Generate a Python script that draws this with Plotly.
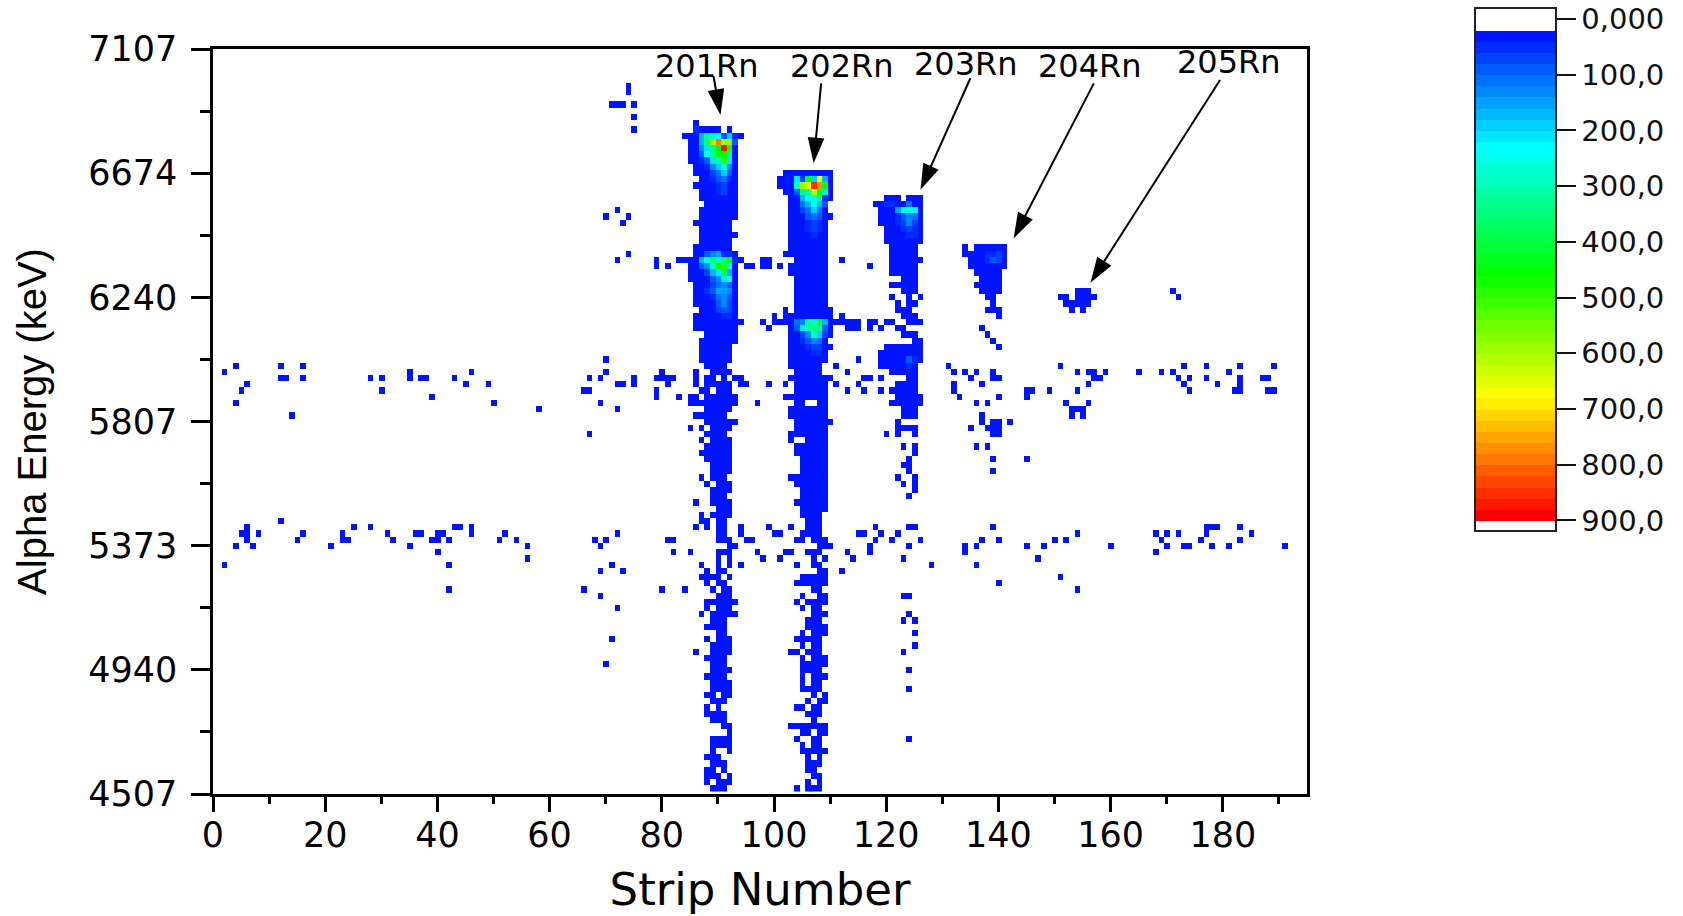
import numpy as np
import plotly.graph_objects as go

# ---------- axes ----------
strip_major = [0, 20, 40, 60, 80, 100, 120, 140, 160, 180]
strip_minor = [10, 30, 50, 70, 90, 110, 130, 150, 170, 190]
energy_major = [4507, 4940, 5373, 5807, 6240, 6674, 7107]
energy_minor = [4723.5, 5156.5, 5590, 6023.5, 6457, 6890.5]
bar_ticks = [0, 100, 200, 300, 400, 500, 600, 700, 800, 900]
bar_labels = ["0,000", "100,0", "200,0", "300,0", "400,0", "500,0", "600,0", "700,0", "800,0", "900,0"]

# ---------- occupied cells: energy-bin index -> strips holding a low count ----------
rows_bottom = {
    0: "89-91 104 106-108", 1: "88 90-92 106 108", 2: "88-90 92 107 108", 3: "88 89 91 106 107",
    4: "89-91 106-108", 5: "88-90 106 108", 6: "89 92 105-109", 7: "89-92 105 107 108",
    8: "89-92 104 107 108 124", 9: "92 105 106 108 109", 10: "91 92 103-109", 11: "89-91 107",
    12: "88-91 106-108", 13: "88 90 104 105 107 108", 14: "89-91 106 108 109", 15: "88 89 91 92 107 109",
    16: "89-92 105-108 124", 17: "89-92 105 107 108", 18: "88-91 105 107-109", 19: "89-92 105-108 124",
    20: "70 89-91 105-109", 21: "88-91 105 107-109", 22: "86 89-92 103 104 106-108 123",
    23: "89-92 105 107 108 125", 24: "71 88 90-92 104-108", 25: "90 91 105 107-109 125",
    26: "88-91 106-109", 27: "89-91 106-108 123 125", 28: "87 89-93 107-109 124",
    29: "72 88 90-92 105 107 108", 30: "88-93 104 106-109", 31: "69 90-92 105 108 109 123 124",
}
rows_lower_band = {
    32: "42 66 80 84 89 91 92 107 108 154", 33: "88 90 91 104-109 140", 34: "87-90 92 105-109 151",
    35: "69 73 88 90 91 108 109 112", 36: "2 42 71 87 90 92 94 104 107 108 128 136",
    37: "56 90 92 98 101 107 109 114 123 147",
    38: "40 82 85 90-92 97 102 103 106-108 113 117 134 168",
    39: "4 7 21 35 56 69 92 93 108-110 117 124 134 136 145 148 160 170 173 174 178 181 191",
    40: "6 15 23 24 32 39 40 42 51 54 68 70 81 82 90-92 95 96 104 105 107-109 118 121 126 137 140 150 152 169 176 183",
    41: "5 6 8 16 23 31 36 37 40 41 46 52 72 90 91 94 100 101 105-108 115 116 119 122 154 168 170 172 177 185",
    42: "6 25 28 43 44 46 86 88 90 91 94 99 103 106-108 118 124 125 139 177-179 183",
    43: "12 87 88 90 91 106-108", 44: "87 89-92 105-108", 45: "90-92 105-109",
}
rows_middle = {
    46: "86 89-92 104-109", 47: "89-91 105-109 124", 48: "89-92 105-109 125", 49: "88 90-92 104-109 123 125",
    50: "87 89-91 103-109 122 125", 51: "89-92 105-109 124 139", 52: "89-92 105-109 123 124",
    53: "88-92 105-109 124 139 145", 54: "87-92 104-109 125", 55: "88-92 104-109 123 125 136 138",
    56: "87 89-92 103 106-109", 57: "67 88-91 103-109 120 122 125 139 140",
    58: "85 87 89-92 104-109 122-125 135 138-140", 59: "88-93 104-110 122 137 139 140 142",
    60: "14 86-91 103-109 123-125 137 153 155", 61: "58 72 88-92 103-109 123-125 153-155",
}
rows_upper_band = {
    62: "4 50 69 85-93 97 104 105 108 109 121-126 136 138 152 156",
    63: "39 79 83 85 86 88-93 102-109 122-126 133 140 145",
    64: "5 30 66 67 79 87 88 90-92 104-109 113 116 119 121-125 132 145 146 149 154 174 182 183 188 189",
    65: "6 45 49 72 73 75 81 86 88-92 94 95 99 102 104-109 111 115 122-125 132 137 156 173 179 183",
    66: "12 13 16 28 30 35 37 38 43 67 69 75 79-82 86 88 89 91 93 94 103-110 116 117 119 124 125 135 139 140 157 158 172 174 177 183 187 188",
    67: "2 35 46 70 80 86 89-92 104-108 113 121-125 132 134 136 139 154 156 157 159 165 169 171 181",
    68: "4 12 16 88-91 103-108 111 119-125 131 151 173 177 183 189",
    69: "70 87-92 103-109 115 119-126", 70: "87-92 103-109 119-126", 71: "87-92 103-110 120-126 140",
    72: "87-93 103-109 125 126 139", 73: "88-93 103-110 123-125 138",
    74: "86-93 99 103-110 113-115 117 119 122 123 137",
    75: "86-94 98 100-115 117 118 120 121 124-126",
}
rows_peaks = {
    76: "86-93 100 102-110 112 123-125 140", 77: "87-93 102 104-110 122-124 138-140 153 155",
    78: "86-93 104-109 122 124 125 139 152-156", 79: "86-93 104-109 121 124 126 138 139 151 152 154-157 172",
    80: "86-93 104-109 123-125 137-140 154-156 171", 81: "86-93 104-109 121-125 136-140",
    82: "85-93 104-109 123-125 137-140", 83: "85-93 103-109 121-125 136-140",
    84: "79 81 85-93 95 96 98 99 101 103-109 117 121-125 135-141",
    85: "72 79 83-94 98 99 104-109 112 121-126 135-141", 86: "74 86-93 102-109 121-125 134-141",
    87: "86-92 103-109 121-125 134 136-141", 88: "87-92 103-109 120-126", 89: "87-93 103-109 120-126",
    90: "87-92 103-109 120-126", 91: "73 86-92 103-109 119-126", 92: "70 74 87-93 103-110 119-126",
    93: "72 87-93 103-109 119-126", 94: "88-93 103-109 118-126", 95: "87-93 103-110 120-122 124-126",
    96: "87-93 102-110", 97: "86-93 101-110", 98: "87-93 101-110", 99: "86-93 102-110", 100: "86-93",
    101: "85-93", 102: "85-93", 103: "85-93", 104: "85-93", 105: "84-94", 106: "75 86-90 92", 107: "86",
    108: "75", 110: "71-73 75", 112: "74", 113: "74",
}
base_count = 25

# ---------- raised counts: energy bin -> first strip, counts along the strips ----------
counts_201Rn = {
    106: (86, [45]),
    105: (87, [170, 320, 280, 230, 90, 190, 50]),
    104: (87, [170, 350, 590, 800, 590, 580, 90]),
    103: (87, [130, 220, 330, 450, 880, 470]),
    102: (87, [100, 230, 340, 440, 450, 340]),
    101: (87, [50, 90, 220, 310, 500, 220]),
    100: (88, [45, 130, 190, 280, 130]),
    99: (88, [40, 70, 120, 190, 90]),
    98: (88, [30, 60, 90, 120, 60]),
    97: (88, [30, 40, 60, 80, 40]),
    96: (89, [30, 50, 70, 30]),
    95: (89, [30, 40, 40]),
    94: (90, [30, 30]),
    93: (90, [30]),
    87: (88, [30, 40, 40]),
    86: (88, [90, 130, 150, 60, 50]),
    85: (87, [170, 230, 360, 300, 360, 440, 50]),
    84: (87, [90, 140, 270, 450, 490, 260]),
    83: (87, [30, 80, 170, 220, 390, 150]),
    82: (88, [40, 90, 130, 210, 260]),
    81: (87, [30, 40, 80, 120, 130, 90]),
    80: (88, [50, 90, 150, 160, 130]),
    79: (89, [50, 120, 140, 90]),
    78: (89, [40, 90, 130, 80]),
    77: (89, [30, 70, 100, 70]),
    76: (90, [40, 60, 60]),
    75: (90, [40, 30]),
    74: (91, [30]),
    72: (90, [30, 30]),
}
counts_202Rn = {
    98: (103, [30, 220, 80, 440, 200, 680, 170]),
    97: (103, [40, 270, 590, 650, 850, 780, 440]),
    96: (104, [90, 350, 320, 610, 430, 300]),
    95: (105, [170, 240, 280, 340, 50]),
    94: (104, [40, 120, 170, 230, 170, 100]),
    93: (104, [30, 80, 120, 190, 120, 40]),
    92: (105, [40, 90, 120, 90]),
    91: (106, [50, 70, 60]),
    90: (105, [30, 60, 80, 50]),
    89: (106, [40, 50, 40]),
    88: (106, [30, 40, 30]),
    85: (107, [40]),
    75: (104, [120, 130, 330, 270, 430, 170]),
    74: (103, [30, 100, 220, 320, 330, 320, 100]),
    73: (104, [30, 70, 130, 290, 190, 70]),
    72: (105, [60, 90, 140, 120, 30]),
    71: (106, [50, 70, 70]),
    70: (106, [30, 60, 50]),
    69: (107, [40, 40]),
    68: (107, [30]),
    67: (107, [30]),
}
counts_203Rn = {
    94: (120, [50, 50, 40, 30, 110, 40]),
    93: (121, [40, 150, 260, 280, 250]),
    92: (122, [60, 90, 140, 110]),
    91: (122, [50, 70, 130, 70]),
    90: (122, [30, 50, 70, 60]),
    89: (123, [40, 50, 50]),
    70: (123, [30, 40]),
    69: (122, [30, 40, 100, 60]),
    68: (123, [40, 50]),
}
counts_204Rn = {
    86: (138, [50, 50, 70]),
    85: (138, [60, 90, 80]),
}

# ---------- isotope labels and their arrows (strip, energy) ----------
isotopes = ["201Rn", "202Rn", "203Rn", "204Rn", "205Rn"]
label_strip = [88.0, 112.2, 134.2, 156.4, 181.1]
label_energy = [7048, 7048, 7055, 7048, 7060]
tail_strip = [89.2, 108.4, 135.0, 157.0, 179.5]
tail_energy = [7013, 6987, 7005, 6987, 6999]
tip_strip = [90.46, 107.06, 126.1, 142.7, 156.4]
tip_energy = [6877, 6708, 6616, 6446, 6291]

# ---------- assemble ----------
n_strips, n_bins = 195, 120
z = np.full((n_bins, n_strips), np.nan)
for group in (rows_bottom, rows_lower_band, rows_middle, rows_upper_band, rows_peaks):
    for row, spec in group.items():
        for part in spec.split():
            a, _, b = part.partition("-")
            z[row, int(a): int(b or a) + 1] = base_count
for group in (counts_201Rn, counts_202Rn, counts_203Rn, counts_204Rn):
    for row, (first, vals) in group.items():
        for k, v in enumerate(vals):
            z[row, first + k] = v

# The reference's colour bar runs from 0 at the top to 900 at the bottom, and a
# Plotly colour bar always grows upward, so the heatmap is fed the negated counts.
LOW, HIGH = -20.6, 918.0
STEPS = [(20, (0, 20, 255)), (225, (0, 255, 255)), (340, (0, 255, 128)), (454, (0, 255, 0)),
         (680, (255, 255, 0)), (900, (255, 0, 0))]
def band_colour(v):
    for (v0, c0), (v1, c1) in zip(STEPS, STEPS[1:]):
        if v <= v1:
            t = (v - v0) / (v1 - v0)
            return "rgb(%d,%d,%d)" % tuple(round(a + (b - a) * t) for a, b in zip(c0, c1))
    return "rgb(255,0,0)"
def norm(v):
    return (HIGH - v) / (HIGH - LOW)
stops = [(norm(LOW), "white"), (norm(20), "white")]
edges = list(range(20, 901, 20))
for lo, hi in zip(edges, edges[1:]):
    c = band_colour(lo + (hi - lo) * (lo - 20) / 860)
    stops += [(norm(lo), c), (norm(hi), c)]
stops += [(norm(900), "white"), (norm(HIGH), "white")]
scale = [[p, c] for p, c in reversed(stops)]

WIDE = "DejaVu Sans"
fig = go.Figure(go.Heatmap(
    z=-z, customdata=z, hovertemplate="strip %{x}<br>%{y} keV<br>%{customdata}<extra></extra>",
    x0=0.08, dx=1, y0=4524.8, dy=21.71,
    zmin=-HIGH, zmax=-LOW, colorscale=scale, hoverongaps=False,
    colorbar=dict(
        xref="paper", yref="paper", x=(1475 - 213) / 1094, xanchor="left",
        y=(794 - 7.5) / 745, yanchor="top", lenmode="fraction", len=523 / 745,
        thicknessmode="pixels", thickness=81,
        xpad=0, ypad=0, outlinecolor="#222222", outlinewidth=2, borderwidth=0,
        tickmode="array", tickvals=[-t for t in bar_ticks], ticktext=bar_labels,
        ticks="outside", ticklen=19, tickwidth=2,
        tickcolor="#111111", tickfont=dict(family=WIDE, size=29, color="#111111"),
    ),
))

for tx0, ty0, tx1, ty1 in zip(tail_strip, tail_energy, tip_strip, tip_energy):
    fig.add_trace(go.Scatter(
        x=[tx0, tx1], y=[ty0, ty1], mode="lines+markers", hoverinfo="skip",
        line=dict(color="black", width=2),
        marker=dict(symbol="arrow", angleref="previous", size=[0, 27], opacity=1, color="black", line=dict(width=0)),
    ))
for name, lx, ly in zip(isotopes, label_strip, label_energy):
    fig.add_annotation(x=lx, y=ly, text=name, showarrow=False, font=dict(family=WIDE, size=32, color="black"))

axis_common = dict(showline=True, linecolor="black", linewidth=2.5, mirror=True, showgrid=False, zeroline=False,
                   ticks="outside", tickcolor="black", tickwidth=2.5,
                   tickfont=dict(family=WIDE, size=35, color="black"))
fig.update_xaxes(range=[0, 195], tickmode="array", tickvals=strip_major, ticklen=15, ticklabelstandoff=-7,
                 minor=dict(tickvals=strip_minor, ticks="outside", ticklen=7, tickwidth=2.5, tickcolor="black"),
                 title=dict(text="Strip Number", font=dict(family=WIDE, size=45, color="black"), standoff=24),
                 **axis_common)
fig.update_yaxes(range=[4507, 7107], tickmode="array", tickvals=energy_major, ticklen=19, ticklabelstandoff=7,
                 minor=dict(tickvals=energy_minor, ticks="outside", ticklen=10, tickwidth=2.5, tickcolor="black"),
                 title=dict(text="Alpha Energy (keV)", font=dict(family="Liberation Sans", size=40, color="black"), standoff=30),
                 **axis_common)
fig.update_layout(width=1683, height=916, autosize=False, paper_bgcolor="white", plot_bgcolor="white",
                  margin=dict(l=213, r=376, t=49, b=122, autoexpand=False), showlegend=False)
fig.write_html("out.html", post_script="document.body.style.margin='0';", config={"displayModeBar": False})
